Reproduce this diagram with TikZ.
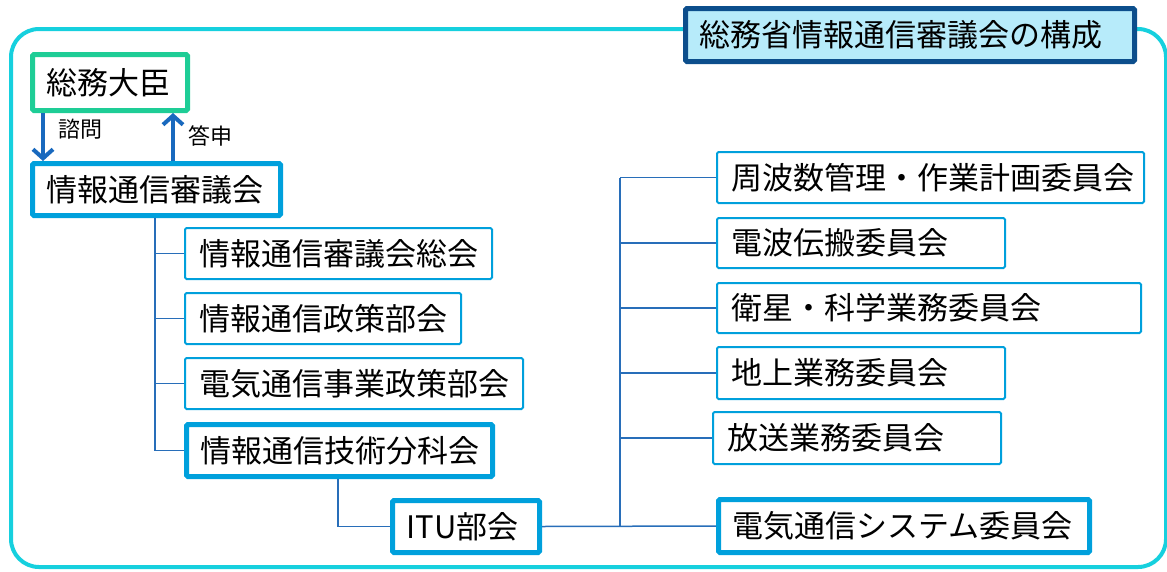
\documentclass[tikz,border=0pt]{standalone}
\usepackage{fontspec}
\setmainfont{Noto Sans CJK JP}
\usetikzlibrary{arrows.meta}

\definecolor{outercyan}{RGB}{22,208,222}
\definecolor{titlefill}{RGB}{183,235,250}
\definecolor{titleblue}{RGB}{12,78,140}
\definecolor{minister}{RGB}{30,205,150}
\definecolor{boxblue}{RGB}{0,160,220}
\definecolor{arrowblue}{RGB}{25,105,190}
\definecolor{linkblue}{RGB}{40,110,185}

\tikzset{
  box/.style={draw=boxblue, line width=2pt, fill=white, rounded corners=1.5pt,
    anchor=north west, inner xsep=14pt, inner ysep=0pt, minimum height=51pt,
    align=left, font=\fontsize{31}{36}\selectfont},
  mainbox/.style={box, line width=5pt},
  link/.style={draw=linkblue, line width=1.5pt},
  arr/.style={draw=arrowblue, line width=4pt, -{Straight Barb[length=9pt,width=20pt,line width=4pt]}},
  lbl/.style={font=\fontsize{22}{26}\selectfont, inner sep=0pt}
}

\begin{document}
\begin{tikzpicture}[x=1pt, y=-1pt]
\useasboundingbox (0,0) rectangle (1167,571);
\draw[outercyan, line width=4pt, rounded corners=28pt] (11,29) rectangle (1166,567);
\node[box, draw=titleblue, fill=titlefill, line width=5pt, minimum height=53pt, text width=421pt] (title) at (683,6) {総務省情報通信審議会の構成};

\node[box, draw=minister, line width=5pt, minimum height=56pt, text width=127pt] (daijin) at (30,52) {総務大臣};
\node[mainbox, minimum height=52pt, text width=220pt] (shingikai) at (30,161) {情報通信審議会};
\node[box, text width=279pt] (soukai) at (184,227) {情報通信審議会総会};
\node[box, text width=248pt] (seisaku) at (184,292) {情報通信政策部会};
\node[box, text width=310pt] (jigyou) at (184,357) {電気通信事業政策部会};
\node[mainbox, minimum height=52pt, text width=278pt] (gijutsu) at (184,422) {情報通信技術分科会};
\node[mainbox, minimum height=52pt, text width=119pt] (itu) at (390,498) {ITU部会};

\node[box, text width=399pt] (shuuhasuu) at (716,151) {周波数管理・作業計画委員会};
\node[box, minimum height=50pt, text width=260pt] (denpa) at (716,217) {電波伝搬委員会};
\node[box, minimum height=50pt, text width=396pt] (eisei) at (716,282) {衛星・科学業務委員会};
\node[box, minimum height=52pt, text width=260pt] (chijou) at (716,346) {地上業務委員会};
\node[box, minimum height=52pt, text width=260pt] (housou) at (712,411) {放送業務委員会};
\node[mainbox, minimum height=53pt, text width=343pt] (system) at (716,497) {電気通信システム委員会};

\coordinate (down) at (43,0);
\coordinate (up) at (173,0);
\draw[arr] (daijin.south -| down) -- (shingikai.north -| down);
\draw[arr] (shingikai.north -| up) -- (daijin.south -| up);
\node[lbl] (shimon) at (80,129) {諮問};
\node[lbl] (toushin) at (210,136) {答申};

\coordinate (lefttrunk) at (155,0);
\draw[link] (shingikai.south -| lefttrunk) |- (gijutsu.west);
\foreach \n in {soukai,seisaku,jigyou}
  \draw[link] (\n.west) -- (\n.west -| lefttrunk);

\coordinate (itutrunk) at (338,0);
\draw[link] (gijutsu.south -| itutrunk) |- (itu.west);
\draw[link] (itu.east) -- (system.west);

\coordinate (righttrunk) at (620,0);
\draw[link] (shuuhasuu.west -| righttrunk) -- (system.west -| righttrunk);
\foreach \n in {shuuhasuu,denpa,eisei,chijou,housou}
  \draw[link] (\n.west) -- (\n.west -| righttrunk);
\end{tikzpicture}
\end{document}
